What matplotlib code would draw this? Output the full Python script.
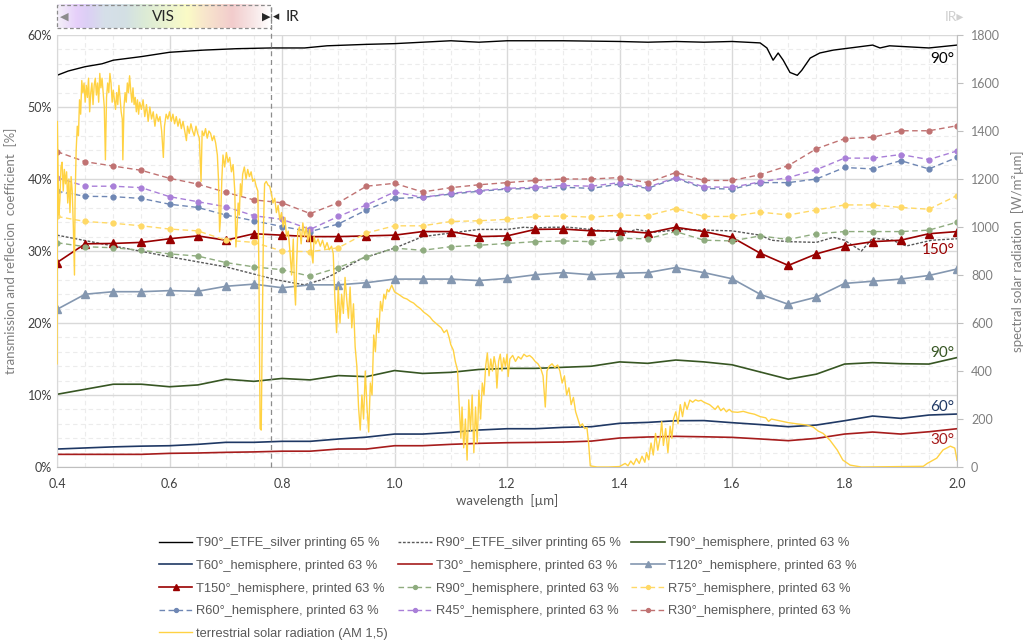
import numpy as np
import matplotlib.pyplot as plt
from matplotlib.colors import LinearSegmentedColormap
from matplotlib.patches import Rectangle

plt.rcParams['font.family'] = ['Lato', 'DejaVu Sans']

# measurement wavelengths of the hemisphere series [µm]
wl = np.round(np.arange(0.40, 2.0001, 0.05), 2)

t90_hemi = [10.1, 10.8, 11.5, 11.5, 11.15, 11.4, 12.2, 11.9, 12.3, 12.1, 12.7, 12.55,
            13.4, 13.0, 13.15, 13.55, 13.7, 13.7, 13.85, 14.0, 14.6, 14.4, 14.86,
            14.6, 14.2, 13.2, 12.2, 12.9, 14.3, 14.5, 14.35, 14.3, 15.2]
t60_hemi = [2.5, 2.65, 2.8, 2.9, 2.96, 3.15, 3.43, 3.43, 3.57, 3.57, 3.89, 4.15,
            4.58, 4.58, 4.81, 5.14, 5.32, 5.32, 5.51, 5.6, 6.07, 6.2, 6.43,
            6.45, 6.16, 5.9, 5.6, 5.83, 6.43, 7.08, 6.76, 7.22, 7.36]
t30_hemi = [1.76, 1.76, 1.76, 1.76, 1.9, 1.95, 2.04, 2.1, 2.2, 2.2, 2.5, 2.5,
            2.96, 2.96, 3.15, 3.29, 3.38, 3.42, 3.47, 3.6, 4.03, 4.17, 4.26,
            4.2, 4.12, 3.9, 3.66, 3.98, 4.58, 4.86, 4.58, 4.9, 5.32]
t120_hemi = [21.9, 24.0, 24.35, 24.35, 24.5, 24.4, 25.1, 25.4, 24.9, 25.3, 25.3, 25.6,
             26.1, 26.1, 26.1, 25.9, 26.2, 26.7, 27.0, 26.7, 26.9, 27.0, 27.7,
             27.0, 26.15, 24.0, 22.6, 23.6, 25.5, 25.8, 26.1, 26.6, 27.5]
t150_hemi = [28.4, 31.0, 31.05, 31.2, 31.7, 32.1, 31.5, 32.4, 32.2, 32.0, 32.0, 32.1,
             32.2, 32.7, 32.7, 32.0, 32.1, 33.0, 33.05, 32.8, 32.8, 32.5, 33.3,
             32.7, 31.9, 29.7, 28.0, 29.6, 30.7, 31.3, 31.5, 32.4, 32.7]
r90_hemi = [31.15, 30.6, 30.45, 30.1, 29.6, 29.3, 28.4, 27.8, 27.4, 26.5, 27.7, 29.2,
            30.4, 30.1, 30.6, 30.8, 31.05, 31.3, 31.4, 31.3, 31.75, 31.7, 32.7,
            31.5, 31.4, 32.1, 31.6, 32.4, 32.7, 32.7, 32.7, 32.9, 34.0]
r75_hemi = [34.8, 34.1, 33.85, 33.5, 33.05, 32.8, 31.5, 31.2, 30.0, 29.9, 30.45, 32.5,
            33.5, 33.5, 34.1, 34.2, 34.4, 34.8, 34.86, 34.7, 35.0, 34.9, 35.9,
            34.8, 34.8, 35.4, 35.0, 35.7, 36.4, 36.4, 36.05, 35.8, 37.7]
r60_hemi = [38.3, 37.6, 37.55, 37.3, 36.5, 36.05, 35.0, 34.2, 33.4, 32.7, 33.75, 35.7,
            37.3, 37.45, 37.9, 38.3, 38.6, 38.7, 38.85, 38.7, 39.3, 38.7, 40.1,
            38.7, 38.6, 39.5, 39.5, 40.0, 41.6, 41.4, 42.55, 41.4, 43.0]
r45_hemi = [40.2, 39.0, 39.0, 38.8, 37.55, 36.85, 36.15, 34.9, 34.4, 33.0, 34.8, 36.4,
            38.2, 37.45, 38.0, 38.4, 38.7, 38.85, 39.1, 39.0, 39.5, 38.85, 40.2,
            38.9, 38.85, 39.6, 40.2, 41.3, 42.9, 42.9, 43.4, 42.7, 43.9]
r30_hemi = [43.8, 42.4, 41.8, 41.2, 40.1, 39.3, 38.15, 37.1, 36.7, 35.2, 36.7, 39.0,
            39.4, 38.2, 38.8, 39.2, 39.5, 39.8, 40.0, 40.0, 40.2, 39.5, 40.9,
            39.8, 39.8, 40.6, 41.85, 44.2, 45.6, 45.8, 46.7, 46.7, 47.4]

# ETFE silver printing, denser spectra
etfe_t_wl = [0.40, 0.42, 0.45, 0.48, 0.50, 0.55, 0.60, 0.66, 0.72, 0.78, 0.84, 0.88,
             0.95, 1.00, 1.05, 1.10, 1.15, 1.20, 1.30, 1.40, 1.45, 1.50, 1.55, 1.60,
             1.65, 1.662, 1.673, 1.682, 1.691, 1.703, 1.716, 1.724, 1.739, 1.756,
             1.78, 1.81, 1.85, 1.863, 1.88, 1.95, 2.00]
etfe_t = [54.4, 55.0, 55.6, 56.0, 56.5, 57.0, 57.6, 57.9, 58.1, 58.2, 58.2, 58.5,
          58.7, 58.8, 59.0, 59.2, 59.0, 59.2, 59.2, 59.1, 59.0, 59.1, 59.0, 59.1,
          58.9, 58.2, 56.5, 57.5, 56.5, 54.8, 54.4, 55.1, 56.8, 57.5,
          57.9, 58.2, 58.6, 58.2, 58.5, 58.2, 58.6]
etfe_r_wl = [0.40, 0.50, 0.60, 0.70, 0.79, 0.84, 0.87, 0.89, 0.94, 1.00, 1.05, 1.10,
             1.15, 1.20, 1.23, 1.25, 1.28, 1.31, 1.36, 1.41, 1.43, 1.46, 1.51, 1.55,
             1.60, 1.65, 1.67, 1.70, 1.75, 1.78, 1.80, 1.83, 1.85, 1.885, 1.91,
             1.955, 2.00]
etfe_r = [32.2, 30.7, 29.2, 27.8, 26.0, 25.3, 26.0, 26.7, 28.9, 30.4, 32.0, 32.5,
          33.0, 33.0, 33.3, 33.2, 33.3, 33.3, 32.9, 32.5, 33.0, 32.6, 33.0, 32.9,
          32.8, 32.2, 31.5, 31.3, 31.2, 31.9, 31.5, 30.0, 31.8, 31.5, 30.7,
          31.5, 31.7]

# terrestrial solar radiation AM 1.5 [W/m²µm]
solar = [
    (0.400, 430), (0.4005, 1440), (0.403, 1050), (0.405, 1110), (0.407, 1250), (0.409, 1270),
    (0.411, 1150), (0.413, 1240), (0.415, 1180), (0.417, 1230), (0.419, 1100), (0.421, 1200),
    (0.423, 1060), (0.425, 1210), (0.427, 1150), (0.429, 1000), (0.431, 800), (0.432, 1100),
    (0.434, 1320), (0.436, 1420), (0.438, 1380), (0.440, 1530), (0.442, 1470), (0.444, 1610),
    (0.446, 1560), (0.448, 1600), (0.450, 1520), (0.452, 1590), (0.454, 1540), (0.456, 1620),
    (0.458, 1480), (0.460, 1560), (0.462, 1600), (0.464, 1510), (0.466, 1590), (0.468, 1620),
    (0.470, 1550), (0.472, 1600), (0.474, 1520), (0.476, 1640), (0.478, 1580), (0.480, 1620),
    (0.482, 1560), (0.484, 1500), (0.486, 1280), (0.488, 1540), (0.490, 1600), (0.492, 1560),
    (0.494, 1640), (0.496, 1600), (0.498, 1520), (0.500, 1570), (0.502, 1530), (0.504, 1490),
    (0.506, 1560), (0.508, 1510), (0.510, 1590), (0.512, 1540), (0.514, 1480), (0.516, 1450),
    (0.517, 1280), (0.519, 1500), (0.521, 1560), (0.523, 1520), (0.525, 1600), (0.527, 1560),
    (0.529, 1630), (0.531, 1570), (0.533, 1520), (0.535, 1580), (0.537, 1510), (0.539, 1540),
    (0.541, 1480), (0.543, 1530), (0.545, 1470), (0.547, 1520), (0.550, 1490), (0.553, 1530),
    (0.556, 1460), (0.559, 1510), (0.562, 1440), (0.565, 1500), (0.568, 1450), (0.571, 1480),
    (0.574, 1420), (0.577, 1470), (0.580, 1440), (0.583, 1460), (0.586, 1400), (0.589, 1290),
    (0.591, 1420), (0.594, 1470), (0.597, 1450), (0.600, 1480), (0.603, 1440), (0.606, 1470),
    (0.609, 1430), (0.612, 1460), (0.615, 1420), (0.618, 1450), (0.621, 1410), (0.624, 1440),
    (0.627, 1400), (0.630, 1360), (0.632, 1420), (0.635, 1390), (0.638, 1430), (0.641, 1400),
    (0.644, 1380), (0.647, 1420), (0.650, 1390), (0.653, 1370), (0.656, 1190), (0.658, 1400),
    (0.661, 1380), (0.664, 1410), (0.667, 1370), (0.670, 1400), (0.673, 1390), (0.676, 1360),
    (0.679, 1380), (0.682, 1350), (0.685, 1300), (0.687, 1200), (0.689, 980), (0.691, 1050),
    (0.693, 1200), (0.695, 1300), (0.698, 1250), (0.701, 1310), (0.704, 1270), (0.707, 1290),
    (0.710, 1230), (0.713, 1260), (0.716, 1150), (0.718, 917), (0.720, 1000), (0.722, 1100),
    (0.724, 1050), (0.726, 1180), (0.728, 1130), (0.730, 1220), (0.733, 1250), (0.736, 1200),
    (0.739, 1240), (0.742, 1210), (0.745, 1230), (0.748, 1190), (0.751, 1200), (0.754, 1170),
    (0.757, 1150), (0.759, 800), (0.761, 160), (0.763, 154), (0.765, 600), (0.767, 1000),
    (0.769, 1180), (0.772, 1190), (0.775, 1175), (0.778, 1170), (0.781, 1140), (0.784, 1100),
    (0.787, 1120), (0.790, 1060), (0.793, 1090), (0.796, 1030), (0.799, 1060), (0.802, 1000),
    (0.805, 1040), (0.808, 960), (0.811, 983), (0.814, 900), (0.817, 800), (0.820, 950),
    (0.822, 760), (0.824, 675), (0.826, 850), (0.828, 980), (0.831, 1000), (0.834, 930),
    (0.837, 1017), (0.840, 960), (0.843, 1000), (0.846, 940), (0.849, 990), (0.852, 900),
    (0.855, 850), (0.857, 960), (0.860, 930), (0.864, 950), (0.868, 920), (0.872, 945),
    (0.876, 910), (0.880, 935), (0.884, 905), (0.888, 920), (0.891, 890), (0.894, 700),
    (0.897, 560), (0.900, 750), (0.903, 600), (0.906, 720), (0.909, 640), (0.912, 790),
    (0.915, 700), (0.918, 620), (0.921, 750), (0.924, 580), (0.927, 680), (0.930, 500),
    (0.933, 420), (0.936, 250), (0.939, 154), (0.942, 300), (0.945, 200), (0.948, 400),
    (0.951, 250), (0.954, 146), (0.957, 350), (0.960, 300), (0.963, 550), (0.966, 480),
    (0.969, 620), (0.972, 560), (0.975, 690), (0.978, 650), (0.981, 720), (0.984, 700),
    (0.987, 740), (0.990, 730), (0.995, 758), (1.000, 730), (1.004, 724), (1.010, 715),
    (1.016, 705), (1.022, 700), (1.028, 690), (1.034, 683), (1.040, 670), (1.046, 660),
    (1.052, 645), (1.058, 635), (1.063, 625), (1.068, 610), (1.073, 600), (1.078, 590),
    (1.083, 580), (1.088, 560), (1.093, 571), (1.097, 540), (1.100, 510), (1.1045, 487),
    (1.108, 440), (1.112, 404), (1.114, 300), (1.116, 208), (1.118, 120), (1.120, 250),
    (1.123, 80), (1.126, 200), (1.129, 29), (1.132, 280), (1.135, 150), (1.138, 300),
    (1.141, 60), (1.144, 250), (1.147, 100), (1.150, 320), (1.153, 200), (1.156, 350),
    (1.159, 300), (1.162, 420), (1.165, 475), (1.168, 380), (1.171, 450), (1.174, 400),
    (1.177, 460), (1.180, 420), (1.182, 329), (1.185, 440), (1.188, 470), (1.191, 400),
    (1.194, 455), (1.197, 420), (1.200, 470), (1.202, 377), (1.205, 450), (1.210, 465),
    (1.215, 440), (1.220, 460), (1.225, 450), (1.230, 470), (1.235, 460), (1.240, 465),
    (1.245, 455), (1.250, 440), (1.255, 430), (1.260, 410), (1.264, 380), (1.268, 250),
    (1.271, 400), (1.275, 420), (1.280, 430), (1.285, 415), (1.290, 425), (1.294, 400),
    (1.298, 350), (1.302, 380), (1.306, 300), (1.310, 330), (1.314, 260), (1.318, 290),
    (1.322, 230), (1.326, 200), (1.330, 170), (1.334, 180), (1.338, 160), (1.342, 165),
    (1.345, 100), (1.348, 5), (1.360, 0), (1.380, 0), (1.400, 2), (1.410, 15), (1.415, 5),
    (1.420, 25), (1.425, 10), (1.430, 35), (1.435, 15), (1.440, 45), (1.445, 20),
    (1.448, 60), (1.452, 30), (1.456, 100), (1.460, 50), (1.464, 140), (1.468, 70),
    (1.472, 120), (1.475, 189), (1.478, 90), (1.482, 160), (1.486, 60), (1.490, 170),
    (1.493, 120), (1.496, 200), (1.500, 230), (1.504, 180), (1.508, 260), (1.512, 210),
    (1.516, 270), (1.520, 240), (1.525, 279), (1.530, 270), (1.535, 280), (1.540, 275),
    (1.545, 278), (1.550, 270), (1.555, 265), (1.560, 260), (1.565, 250), (1.570, 240),
    (1.575, 255), (1.580, 235), (1.585, 245), (1.590, 230), (1.595, 240), (1.600, 230),
    (1.610, 228), (1.620, 232), (1.630, 225), (1.640, 220), (1.650, 210), (1.660, 205),
    (1.665, 190), (1.670, 200), (1.680, 195), (1.690, 190), (1.700, 185), (1.715, 180),
    (1.733, 175), (1.744, 167), (1.753, 150), (1.762, 140), (1.774, 112), (1.787, 71),
    (1.797, 29), (1.810, 8), (1.830, 0), (1.940, 3), (1.947, 15), (1.964, 37),
    (1.975, 71), (1.988, 87), (1.996, 79), (2.000, 29),
]
sol_wl, sol_val = zip(*solar)

fig = plt.figure(figsize=(10.24, 6.41), dpi=100)
ax = fig.add_axes([0.0557, 0.2714, 0.8789, 0.674])
ax2 = ax.twinx()

c_grey = '#7f7f7f'

# transmission curves
l_t90e, = ax.plot(etfe_t_wl, etfe_t, color='black', lw=1.0)
l_r90e, = ax.plot(etfe_r_wl, etfe_r, color='#595959', lw=1.0, ls=(0, (2, 1.2)))
l_t90h, = ax.plot(wl, t90_hemi, color='#375623', lw=1.2)
l_t60h, = ax.plot(wl, t60_hemi, color='#1f3864', lw=1.2)
l_t30h, = ax.plot(wl, t30_hemi, color='#a61c1c', lw=1.2)
l_t120h, = ax.plot(wl, t120_hemi, color='#8497b0', lw=1.2, marker='^', ms=5.5)
l_t150h, = ax.plot(wl, t150_hemi, color='#990000', lw=1.2, marker='^', ms=6)

# reflection curves
rstyle = dict(lw=1.0, ls=(0, (4, 2.5)), marker='o', ms=3.5)
l_r90h, = ax.plot(wl, r90_hemi, color='#8fac7f', **rstyle)
l_r75h, = ax.plot(wl, r75_hemi, color='#ffd966', **rstyle)
l_r60h, = ax.plot(wl, r60_hemi, color='#6f87b4', **rstyle)
l_r45h, = ax.plot(wl, r45_hemi, color='#a97fd8', **rstyle)
l_r30h, = ax.plot(wl, r30_hemi, color='#c07272', **rstyle)

l_sol, = ax2.plot(sol_wl, sol_val, color='#ffd243', lw=1.0)

ax.set_xlim(0.4, 2.0)
ax.set_ylim(0, 60)
ax2.set_ylim(0, 1800)

ax.set_xticks(np.arange(0.4, 2.01, 0.2))
ax.set_xticklabels([f'{v:.1f}' for v in np.arange(0.4, 2.01, 0.2)])
ax.set_xticks(np.arange(0.4, 2.01, 0.05), minor=True)
ax.set_yticks(range(0, 61, 10))
ax.set_yticklabels([f'{v}%' for v in range(0, 61, 10)])
ax.set_yticks(range(0, 61, 2), minor=True)
ax2.set_yticks(range(0, 1801, 200))

ax.grid(which='major', color='#d9d9d9', lw=1.0)
ax.grid(which='minor', color='#ececec', lw=0.8, ls=(0, (4, 3)))
ax.set_axisbelow(True)

ax.tick_params(which='both', length=0, labelsize=9, labelcolor='#404040')
ax.tick_params(axis='x', pad=8)
ax2.tick_params(axis='y', length=4, color='#bfbfbf', labelsize=9, labelcolor=c_grey, pad=6)

for s in ['top', 'right']:
    ax.spines[s].set_visible(False)
ax.spines['left'].set_color('#d9d9d9')
ax.spines['bottom'].set_color('#bfbfbf')
for s in ['top', 'left', 'bottom']:
    ax2.spines[s].set_visible(False)
ax2.spines['right'].set_color('#bfbfbf')

ax.set_xlabel('wavelength  [µm]', color='#595959', fontsize=9.5, labelpad=3)
ax.set_ylabel('transmission and reflecion  coefficient  [%]', color=c_grey, fontsize=9.5, labelpad=8)
ax2.set_ylabel('spectral solar radiation  [W/m²µm]', color=c_grey, fontsize=9.5, labelpad=8)

# angle labels at the right end
ax.text(1.995, 56.6, '90°', ha='right', va='center', color='black', fontsize=11)
ax.text(1.995, 30.1, '150°', ha='right', va='center', color='#990000', fontsize=11)
ax.text(1.995, 15.8, '90°', ha='right', va='center', color='#375623', fontsize=11)
ax.text(1.995, 8.4, '60°', ha='right', va='center', color='#1f3864', fontsize=11)
ax.text(1.995, 3.7, '30°', ha='right', va='center', color='#a61c1c', fontsize=11)

# VIS band above the plot
vis_cmap = LinearSegmentedColormap.from_list('vis', [
    (0.0, '#f4f0f8'), (0.09, '#e6d0fa'), (0.14, '#dccff5'), (0.22, '#d6dfe9'),
    (0.32, '#d3e0e4'), (0.41, '#dcebd6'), (0.53, '#eef5cf'), (0.61, '#fbfbc6'),
    (0.69, '#f8e6cc'), (0.82, '#f2cccc'), (0.91, '#f7e4e4'), (1.0, '#ffffff')])
grad = np.linspace(0, 1, 256).reshape(1, -1)
im = ax.imshow(grad, cmap=vis_cmap, extent=[0.4, 0.78, 60.97, 64.17], aspect='auto', zorder=3)
im.set_clip_on(False)
ax.add_patch(Rectangle((0.4, 60.97), 0.38, 3.2, fill=False, ec='#8c8c8c', lw=0.9,
                       ls=(0, (3, 2)), clip_on=False, zorder=4))
ax.plot([0.78, 0.78], [0, 64.17], color='#8c8c8c', lw=0.9, ls=(0, (4, 3)), clip_on=False, zorder=4)
ax.text(0.59, 62.55, 'VIS', ha='center', va='center', fontsize=11, color='#262626')
ax.text(0.412, 62.55, '◀', ha='center', va='center', fontsize=8, color='#8c8c8c', family='DejaVu Sans')
ax.text(0.771, 62.55, '▶', ha='center', va='center', fontsize=8, color='#262626', family='DejaVu Sans')
ax.text(0.79, 62.55, '◂', ha='center', va='center', fontsize=9, color='#262626', family='DejaVu Sans')
ax.text(0.807, 62.55, 'IR', ha='left', va='center', fontsize=11, color='#262626')
ax.text(2.012, 62.55, 'IR▸', ha='right', va='center', fontsize=10, color='#d0d0d0',
        family=['Lato', 'DejaVu Sans'])
ax.set_xlim(0.4, 2.0)
ax.set_ylim(0, 60)

handles = [l_t90e, l_t60h, l_t150h, l_r60h, l_sol,
           l_r90e, l_t30h, l_r90h, l_r45h,
           l_t90h, l_t120h, l_r75h, l_r30h]
labels = ['T90°_ETFE_silver printing 65 %', 'T60°_hemisphere, printed 63 %',
          'T150°_hemisphere, printed 63 %', 'R60°_hemisphere, printed 63 %',
          'terrestrial solar radiation (AM 1,5)',
          'R90°_ETFE_silver printing 65 %', 'T30°_hemisphere, printed 63 %',
          'R90°_hemisphere, printed 63 %', 'R45°_hemisphere, printed 63 %',
          'T90°_hemisphere, printed 63 %', 'T120°_hemisphere, printed 63 %',
          'R75°_hemisphere, printed 63 %', 'R30°_hemisphere, printed 63 %']
leg = fig.legend(handles, labels, loc='upper center', bbox_to_anchor=(0.496, 0.180), ncol=3,
                 frameon=False, handlelength=2.6, handletextpad=0.3, columnspacing=0.8,
                 labelspacing=0.82, prop={'family': ['Liberation Sans', 'DejaVu Sans'], 'size': 9.3},
                 labelcolor='#595959', markerscale=0.8)

fig.savefig('out.png', dpi=100)
